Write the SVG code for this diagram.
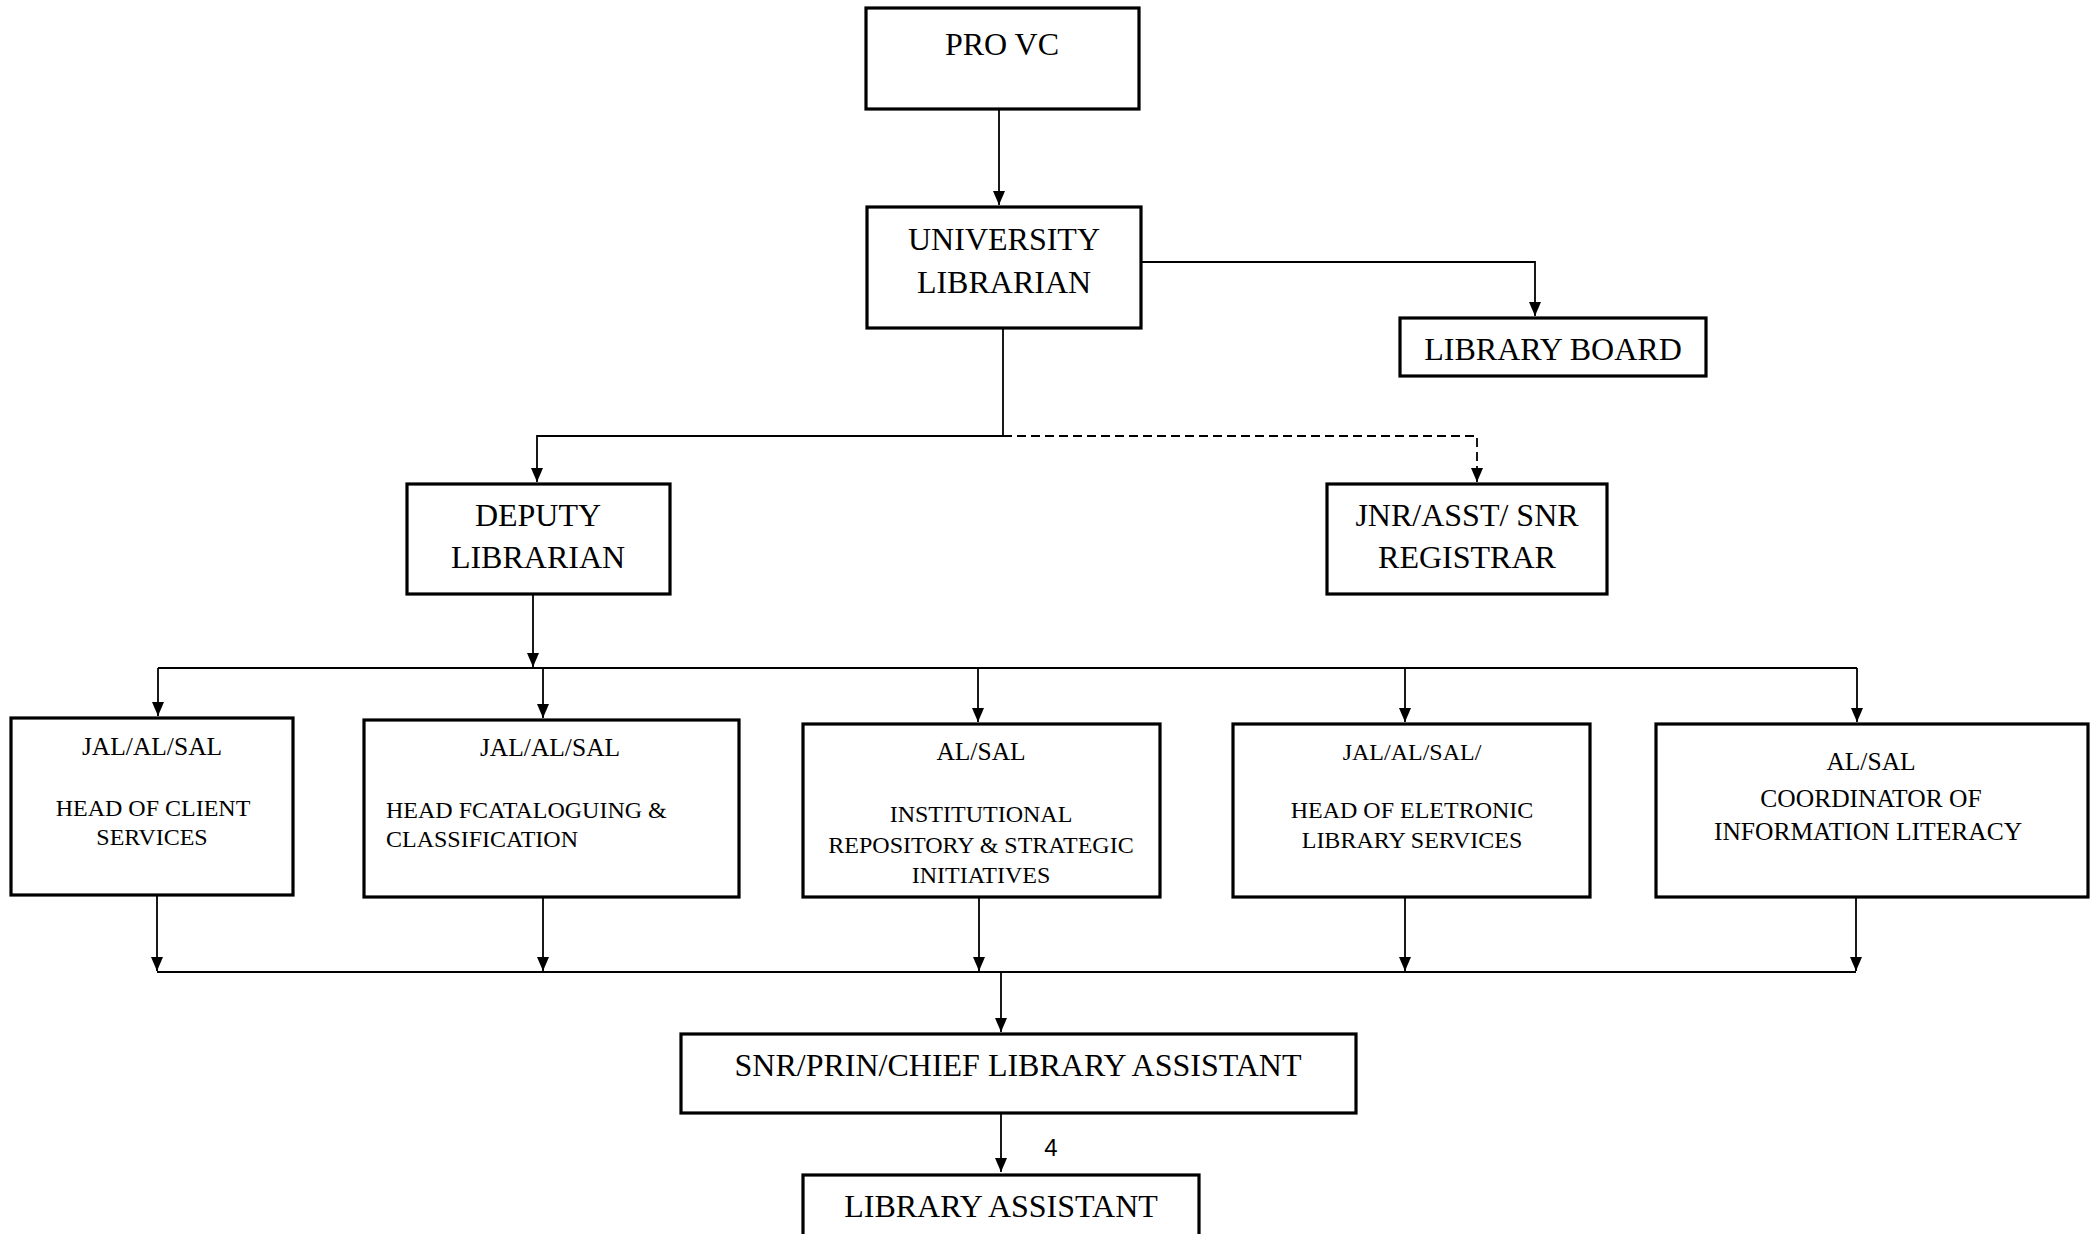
<svg xmlns="http://www.w3.org/2000/svg" width="2098" height="1234" viewBox="0 0 2098 1234">
<defs>
<style>
.box{fill:#fff;stroke:#000;stroke-width:3.2}
.t{font-family:"Liberation Serif","Times New Roman",serif;fill:#000;text-anchor:middle}
.l{text-anchor:start}
.big{font-size:32px}
.hd{font-size:25.5px}
.sm{font-size:24px}
.c{fill:none;stroke:#000;stroke-width:1.8}
.d{stroke-dasharray:9 5}
</style>
<marker id="ah" viewBox="0 0 14 12" refX="14" refY="6" markerWidth="14" markerHeight="12" markerUnits="userSpaceOnUse" orient="auto">
<path d="M0,0 L14,6 L0,12 z" fill="#000"/>
</marker>
</defs>
<rect width="2098" height="1234" fill="#fff"/>

<g id="connectors">
<path class="c" d="M999,110 V205" marker-end="url(#ah)"/>
<path class="c" d="M1141,262 H1535 V316" marker-end="url(#ah)"/>
<path class="c" d="M1003,328 V436 H537 V482" marker-end="url(#ah)"/>
<path class="c d" d="M1003,436 H1477 V482" marker-end="url(#ah)"/>
<path class="c" d="M533,594 V667" marker-end="url(#ah)"/>
<path class="c" d="M158,668 H1857"/>
<path class="c" d="M158,668 V716" marker-end="url(#ah)"/>
<path class="c" d="M543,668 V718" marker-end="url(#ah)"/>
<path class="c" d="M978,668 V722" marker-end="url(#ah)"/>
<path class="c" d="M1405,668 V722" marker-end="url(#ah)"/>
<path class="c" d="M1857,668 V722" marker-end="url(#ah)"/>
<path class="c" d="M157,896 V971" marker-end="url(#ah)"/>
<path class="c" d="M543,897 V971" marker-end="url(#ah)"/>
<path class="c" d="M979,897 V971" marker-end="url(#ah)"/>
<path class="c" d="M1405,897 V971" marker-end="url(#ah)"/>
<path class="c" d="M1856,897 V971" marker-end="url(#ah)"/>
<path class="c" d="M157,972 H1856"/>
<path class="c" d="M1001,972 V1032" marker-end="url(#ah)"/>
<path class="c" d="M1001,1113 V1172" marker-end="url(#ah)"/>
<text x="1051" y="1156" style="font-family:'Liberation Sans','Open Sans',sans-serif;font-size:24px;text-anchor:middle">4</text>
</g>

<g id="pro-vc">
<rect class="box" x="866" y="8" width="273" height="101"/>
<text class="t big" x="1002" y="55">PRO VC</text>
</g>

<g id="university-librarian">
<rect class="box" x="867" y="207" width="274" height="121"/>
<text class="t big" x="1004" y="250">UNIVERSITY</text>
<text class="t big" x="1004" y="293">LIBRARIAN</text>
</g>

<g id="library-board">
<rect class="box" x="1400" y="318" width="306" height="58"/>
<text class="t big" x="1553" y="360">LIBRARY BOARD</text>
</g>

<g id="deputy-librarian">
<rect class="box" x="407" y="484" width="263" height="110"/>
<text class="t big" x="538" y="526">DEPUTY</text>
<text class="t big" x="538" y="568">LIBRARIAN</text>
</g>

<g id="registrar">
<rect class="box" x="1327" y="484" width="280" height="110"/>
<text class="t big" x="1467" y="526">JNR/ASST/ SNR</text>
<text class="t big" x="1467" y="568">REGISTRAR</text>
</g>

<g id="client-services">
<rect class="box" x="11" y="718" width="282" height="177"/>
<text class="t hd" x="152" y="755">JAL/AL/SAL</text>
<text class="t sm" x="153" y="816">HEAD OF CLIENT</text>
<text class="t sm" x="152" y="845">SERVICES</text>
</g>

<g id="cataloguing">
<rect class="box" x="364" y="720" width="375" height="177"/>
<text class="t hd" x="550" y="756">JAL/AL/SAL</text>
<text class="t l sm" x="386" y="818">HEAD FCATALOGUING &amp;</text>
<text class="t l sm" x="386" y="847">CLASSIFICATION</text>
</g>

<g id="institutional-repository">
<rect class="box" x="803" y="724" width="357" height="173"/>
<text class="t hd" x="981" y="760">AL/SAL</text>
<text class="t sm" x="981" y="822">INSTITUTIONAL</text>
<text class="t sm" x="981" y="853">REPOSITORY &amp; STRATEGIC</text>
<text class="t sm" x="981" y="883">INITIATIVES</text>
</g>

<g id="electronic-services">
<rect class="box" x="1233" y="724" width="357" height="173"/>
<text class="t sm" x="1412" y="760">JAL/AL/SAL/</text>
<text class="t sm" x="1412" y="818">HEAD OF ELETRONIC</text>
<text class="t sm" x="1412" y="848">LIBRARY SERVICES</text>
</g>

<g id="information-literacy">
<rect class="box" x="1656" y="724" width="432" height="173"/>
<text class="t hd" x="1871" y="770">AL/SAL</text>
<text class="t hd" x="1871" y="807">COORDINATOR OF</text>
<text class="t hd" x="1868" y="840">INFORMATION LITERACY</text>
</g>

<g id="chief-library-assistant">
<rect class="box" x="681" y="1034" width="675" height="79"/>
<text class="t big" x="1018" y="1076">SNR/PRIN/CHIEF LIBRARY ASSISTANT</text>
</g>

<g id="library-assistant">
<rect class="box" x="803" y="1175" width="396" height="80"/>
<text class="t big" x="1001" y="1217">LIBRARY ASSISTANT</text>
</g>
</svg>
